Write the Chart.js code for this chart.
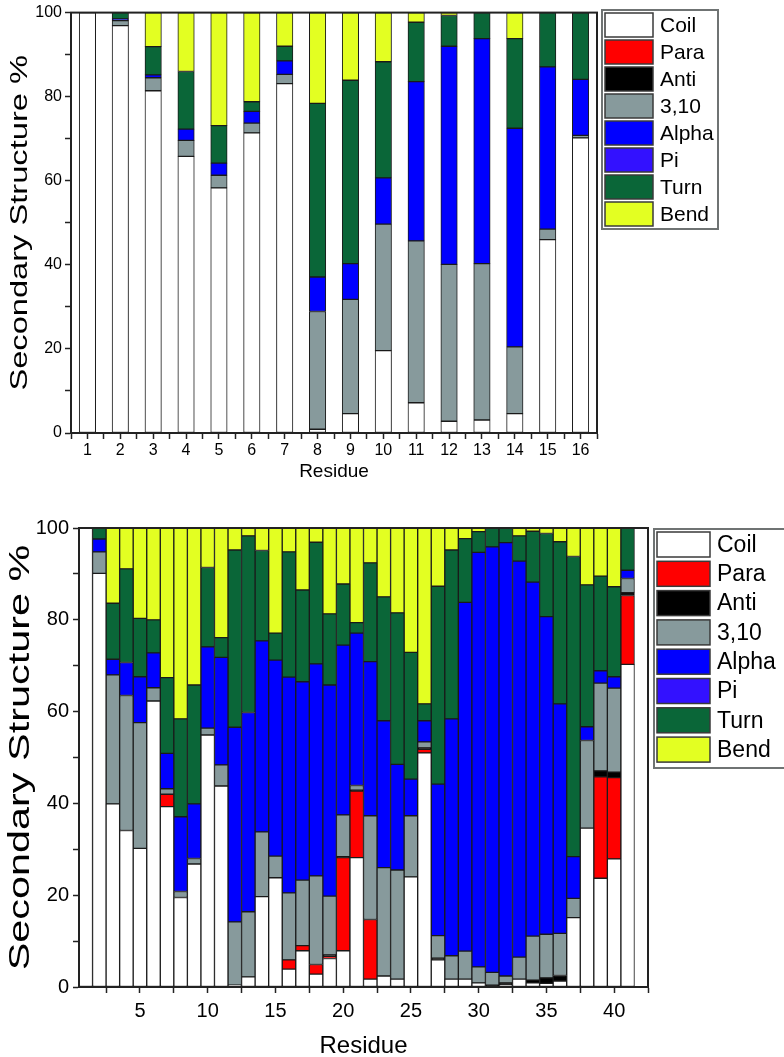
<!DOCTYPE html>
<html>
<head>
<meta charset="utf-8">
<script src="https://cdn.jsdelivr.net/npm/chart.js@4.4.0/dist/chart.umd.min.js"></script>
<style>
html, body { margin: 0; padding: 0; background: #fff; overflow: hidden; }
#wrap { position: relative; width: 784px; height: 1057px; }
canvas { position: absolute; left: 0; }
</style>
</head>
<body>
<div id="wrap">
  <canvas id="topChart" width="784" height="500" style="top:0"></canvas>
  <canvas id="bottomChart" width="784" height="557" style="top:500px"></canvas>
</div>
<script>
// series, bottom to top of each stack
const seriesNames = ['Coil', 'Para', 'Anti', '3,10', 'Alpha', 'Pi', 'Turn', 'Bend'];
const seriesColors = ['#ffffff', '#ff0000', '#000000', '#879a9c', '#0000ff', '#3311ff', '#0a6638', '#e3ff22'];

// upper panel, residues 1-16
const residuesA = [1, 2, 3, 4, 5, 6, 7, 8, 9, 10, 11, 12, 13, 14, 15, 16];
const coilA  = [100, 96.9, 81.4, 65.8, 58.3, 71.4, 83.1, 0.9, 4.6, 19.6, 7.2, 2.8, 3.1, 4.6, 46.0, 70.2];
const paraA  = [0, 0, 0, 0, 0, 0, 0, 0, 0, 0, 0, 0, 0, 0, 0, 0];
const antiA  = [0, 0, 0, 0, 0, 0, 0, 0, 0, 0, 0, 0, 0, 0, 0, 0];
const h310A  = [0, 1.2, 3.1, 3.8, 3.0, 2.3, 2.2, 28.0, 27.2, 30.1, 38.5, 37.3, 37.2, 15.9, 2.5, 0.6];
const alphaA = [0, 0.4, 0.7, 2.7, 2.9, 2.8, 3.2, 8.2, 8.5, 11.0, 37.9, 51.9, 53.5, 52.0, 38.6, 13.3];
const piA    = [0, 0, 0, 0, 0, 0, 0, 0, 0, 0, 0, 0, 0, 0, 0, 0];
const turnA  = [0, 1.5, 6.7, 13.7, 8.9, 2.3, 3.5, 41.3, 43.6, 27.6, 14.1, 7.3, 6.2, 21.3, 12.9, 15.9];
const bendA  = [0, 0, 8.1, 14.0, 26.9, 21.2, 8.0, 21.6, 16.1, 11.7, 2.3, 0.7, 0, 6.2, 0, 0];

// lower panel, residues 1-41
const residuesB = [1, 2, 3, 4, 5, 6, 7, 8, 9, 10, 11, 12, 13, 14, 15, 16, 17, 18, 19, 20,
  21, 22, 23, 24, 25, 26, 27, 28, 29, 30, 31, 32, 33, 34, 35, 36, 37, 38, 39, 40, 41];
const coilB  = [100, 90.1, 39.9, 34.1, 30.2, 62.3, 39.3, 19.5, 26.8, 54.9, 43.8, 0.4, 2.2, 19.7, 23.8, 3.9, 7.9, 2.8, 6.2, 7.9,
  28.2, 1.7, 2.4, 1.7, 24.0, 51.0, 5.9, 1.7, 1.7, 0.9, 0.2, 0.4, 1.7, 0.9, 0.8, 1.3, 15.1, 34.6, 23.7, 27.9, 70.3];
const paraB  = [0, 0, 0, 0, 0, 0, 2.7, 0, 0, 0, 0, 0, 0, 0, 0, 2.0, 1.1, 2.1, 0.4, 20.3,
  14.5, 13.0, 0, 0, 0, 0.8, 0, 0, 0, 0, 0, 0, 0, 0, 0, 0, 0, 0, 22.1, 17.7, 15.0];
const antiB  = [0, 0, 0, 0, 0, 0, 0, 0, 0, 0, 0, 0, 0, 0, 0, 0, 0, 0, 0.4, 0.2,
  0.2, 0, 0, 0, 0, 0.3, 0.4, 0, 0, 0, 0.2, 0.5, 0, 0.6, 1.2, 1.2, 0, 0, 1.3, 1.2, 0.6];
const h310B  = [0, 4.7, 28.1, 29.4, 27.4, 2.9, 1.2, 1.3, 1.2, 1.5, 4.6, 13.8, 14.2, 14.1, 4.7, 14.6, 14.3, 19.3, 12.8, 9.1,
  1.0, 22.6, 23.6, 23.8, 13.3, 1.3, 4.9, 5.1, 6.1, 3.5, 2.8, 1.5, 4.8, 9.6, 9.5, 9.2, 4.2, 19.1, 19.1, 18.3, 3.1];
const alphaB = [0, 2.8, 3.4, 7.2, 10.0, 7.6, 7.7, 16.3, 11.9, 17.7, 23.4, 42.4, 43.4, 41.6, 42.7, 47.0, 43.2, 46.2, 46.0, 37.0,
  33.2, 33.6, 32.0, 23.0, 8.0, 4.6, 33.0, 51.6, 76.0, 90.3, 92.7, 94.4, 86.3, 77.1, 69.2, 50.0, 9.1, 3.0, 2.7, 2.5, 1.8];
const piB    = [0, 0, 0, 0, 0, 0, 0, 0, 0, 0, 0, 0, 0, 0, 0, 0, 0, 0, 0, 0,
  0, 0, 0, 0, 0, 0, 0, 0, 0, 0, 0, 0, 0, 0, 0, 0, 0, 0, 0, 0, 0];
const turnB  = [0, 2.4, 12.2, 20.4, 12.7, 7.2, 16.5, 21.3, 25.9, 17.3, 4.3, 38.6, 38.5, 19.7, 5.9, 27.3, 20.0, 26.5, 15.5, 13.3,
  2.3, 21.5, 27.0, 33.0, 27.6, 3.7, 43.1, 36.8, 13.9, 4.5, 4.1, 3.2, 5.5, 11.1, 18.1, 35.3, 65.4, 30.9, 20.6, 19.6, 9.2];
const bendB  = [0, 0, 16.4, 8.9, 19.7, 20.0, 32.6, 41.6, 34.2, 8.6, 23.9, 4.8, 1.7, 4.9, 22.9, 5.2, 13.5, 3.1, 18.7, 12.2,
  20.6, 7.6, 15.0, 18.5, 27.1, 38.3, 12.7, 4.8, 2.3, 0.8, 0, 0, 1.7, 0.7, 1.2, 3.0, 6.2, 12.4, 10.5, 12.8, 0];

const yTicks = [0, 20, 40, 60, 80, 100];
const FONT = '"Liberation Sans", Arial, sans-serif';

function makeDatasets(residues, series) {
  return series.map((vals, i) => ({
    label: seriesNames[i],
    data: residues.map((r, j) => ({ x: r, y: vals[j] })),
    backgroundColor: seriesColors[i],
    borderColor: '#1a1a1a',
    borderWidth: 1,
    borderSkipped: false,
    categoryPercentage: 1,
    barPercentage: 1
  }));
}

// frame round the plot
const frame = {
  id: 'frame',
  afterDatasetsDraw(chart) {
    const a = chart.chartArea, ctx = chart.ctx;
    ctx.save();
    ctx.strokeStyle = '#222';
    ctx.lineWidth = 2;
    ctx.strokeRect(a.left, a.top, a.right - a.left, a.bottom - a.top);
    ctx.restore();
  }
};

// y title, the source figure is stretched along the axis
const yTitle = {
  id: 'yTitle',
  afterDraw(chart, args, o) {
    const a = chart.chartArea, ctx = chart.ctx;
    ctx.save();
    ctx.translate(o.x, (a.top + a.bottom) / 2);
    ctx.rotate(-Math.PI / 2);
    ctx.scale(o.stretch, 1);
    ctx.font = o.size + 'px ' + FONT;
    ctx.fillStyle = '#000';
    ctx.textAlign = 'center';
    ctx.textBaseline = 'middle';
    ctx.fillText(o.text, 0, 0);
    ctx.restore();
  }
};

// boxed legend at the right
const boxLegend = {
  id: 'boxLegend',
  afterDraw(chart, args, o) {
    const ctx = chart.ctx;
    ctx.save();
    ctx.strokeStyle = '#6f7373';
    ctx.lineWidth = 2;
    ctx.strokeRect(o.x, o.y, o.w, o.h);
    ctx.font = o.size + 'px ' + FONT;
    ctx.textBaseline = 'middle';
    chart.data.datasets.forEach((ds, i) => {
      const y = o.y + o.pad + i * o.step;
      ctx.fillStyle = ds.backgroundColor;
      ctx.fillRect(o.x + o.pad, y, o.sw, o.sh);
      ctx.strokeStyle = '#3a3a3a';
      ctx.lineWidth = 1.5;
      ctx.strokeRect(o.x + o.pad, y, o.sw, o.sh);
      ctx.fillStyle = '#000';
      ctx.fillText(ds.label, o.x + o.pad + o.sw + o.gap, y + o.sh / 2 + 1);
    });
    ctx.restore();
  }
};

function makeChart(id, residues, series, p) {
  return new Chart(document.getElementById(id), {
    type: 'bar',
    data: { datasets: makeDatasets(residues, series) },
    plugins: [frame, boxLegend, yTitle],
    options: {
      responsive: false,
      animation: false,
      layout: { padding: { top: p.top, right: p.right, left: 0, bottom: 0 } },
      plugins: {
        legend: { display: false },
        tooltip: { enabled: false },
        boxLegend: p.legend,
        yTitle: p.ytitle
      },
      scales: {
        x: {
          type: 'linear',
          stacked: true,
          offset: false,
          min: p.xmin,
          max: p.xmax,
          afterFit: s => { s.height = p.xh; },
          border: { color: '#222', width: 2 },
          grid: { drawOnChartArea: false, offset: false, tickLength: 6, color: '#222', tickWidth: 1.5 },
          ticks: {
            stepSize: p.xstep,
            autoSkip: false,
            maxRotation: 0,
            includeBounds: false,
            padding: p.xpad,
            color: '#000',
            font: { family: FONT, size: p.tick },
            callback: v => (v % p.xlabel === 0 ? v : '')
          },
          title: {
            display: true, text: 'Residue', color: '#000',
            font: { family: FONT, size: p.title, lineHeight: 0.9 },
            padding: { top: 0, bottom: p.xtpad }
          }
        },
        y: {
          stacked: true,
          min: 0,
          max: 100,
          afterFit: s => { s.width = p.yw; },
          border: { color: '#222', width: 2 },
          grid: { drawOnChartArea: false, tickLength: 6, color: '#222', tickWidth: 1.5 },
          ticks: {
            stepSize: 10,
            padding: p.ypad,
            color: '#000',
            font: { family: FONT, size: p.tick },
            callback: v => (yTicks.includes(v) ? v : '')
          },
          title: { display: false }
        }
      }
    }
  });
}

makeChart('topChart', residuesA, [coilA, paraA, antiA, h310A, alphaA, piA, turnA, bendA], {
  top: 10, right: 187, xh: 67, yw: 71,
  xmin: 0.5, xmax: 16.5, xstep: 0.5, xlabel: 1,
  tick: 16, title: 19, xpad: 2, ypad: 3, xtpad: 20,
  ytitle: { text: 'Secondary Structure %', x: 20, size: 24, stretch: 1.36 },
  legend: { x: 602, y: 10, w: 116, h: 219, pad: 3, step: 27, sw: 48, sh: 24, gap: 7, size: 21 }
});

makeChart('bottomChart', residuesB, [coilB, paraB, antiB, h310B, alphaB, piB, turnB, bendB], {
  top: 28, right: 136, xh: 70, yw: 79,
  xmin: 0.5, xmax: 42.5, xstep: 2.5, xlabel: 5,
  tick: 20, title: 24, xpad: 6, ypad: 4, xtpad: 0,
  ytitle: { text: 'Secondary Structure %', x: 21, size: 30, stretch: 1.38 },
  legend: { x: 654, y: 29, w: 132, h: 239, pad: 3, step: 29.3, sw: 53, sh: 25, gap: 7, size: 23 }
});
</script>
</body>
</html>
